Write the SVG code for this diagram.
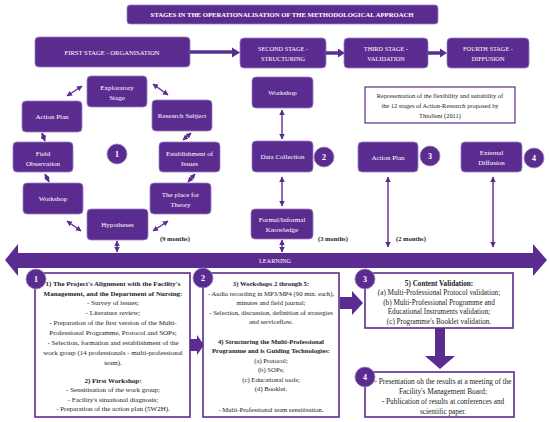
<svg xmlns="http://www.w3.org/2000/svg" width="550" height="422" viewBox="0 0 550 422">
<defs>
<marker id="ah" viewBox="0 0 10 10" refX="9" refY="5" markerWidth="4" markerHeight="4" orient="auto-start-reverse"><path d="M0,0 L10,5 L0,10 z" fill="#5b2c8f"/></marker>
<style>
.n{fill:#5b2c8f;stroke:#9a82c0;stroke-width:0.8}
.t{font-family:"Liberation Serif",serif;font-size:7px;fill:#fff;text-anchor:middle}
.h{font-family:"Liberation Serif",serif;font-size:6.3px;fill:#fff;text-anchor:middle}
.c{fill:#5b2c8f;stroke:#9a82c0;stroke-width:0.8}
.cn{font-family:"Liberation Serif",serif;font-size:8px;font-weight:bold;fill:#fff;text-anchor:middle}
.dl{stroke:#5b2c8f;stroke-width:1.4;fill:none;marker-start:url(#ah);marker-end:url(#ah)}
.bx{fill:#fff;stroke:#5b2c8f;stroke-width:1.6}
.b{font-family:"Liberation Serif",serif;font-size:6.4px;fill:#222;text-anchor:middle}
.b1{font-size:7px}
.b2{font-size:6.7px}
.b3{font-size:7.2px}
.b4{font-size:7.3px}
.bb{font-weight:bold}
.m{font-family:"Liberation Serif",serif;font-size:6.5px;font-weight:bold;fill:#222}
.p{fill:#5b2c8f}
</style>
</defs>
<rect width="550" height="422" fill="#fff"/>

<g id="title"><rect x="127" y="5" width="311" height="19" rx="3" class="n"/><text x="282" y="17" class="h" font-weight="bold" textLength="263" lengthAdjust="spacingAndGlyphs">STAGES IN THE OPERATIONALISATION OF THE METHODOLOGICAL APPROACH</text></g>

<g id="stage1"><rect x="35" y="37" width="155" height="30" rx="4" class="n"/><text x="112" y="54.5" class="h" textLength="95" lengthAdjust="spacingAndGlyphs">FIRST STAGE - ORGANISATION</text></g>
<g id="stage2"><rect x="240" y="38" width="86" height="30" rx="4" class="n"/><text x="283" y="50.5" class="h">SECOND STAGE -</text><text x="283" y="60.5" class="h">STRUCTURING</text></g>
<g id="stage3"><rect x="344" y="38" width="84" height="30" rx="4" class="n"/><text x="386" y="50.5" class="h">THIRD STAGE -</text><text x="386" y="60.5" class="h">VALIDATION</text></g>
<g id="stage4"><rect x="447" y="38" width="82" height="30" rx="4" class="n"/><text x="488" y="50.5" class="h">FOURTH STAGE -</text><text x="488" y="60.5" class="h">DIFFUSION</text></g>

<g id="exploratory"><rect x="87" y="76" width="60" height="31" rx="4" class="n"/><text x="117" y="89.5" class="t">Exploratory</text><text x="117" y="99.5" class="t">Stage</text></g>
<g id="actionplan1"><rect x="22" y="101" width="60" height="31" rx="4" class="n"/><text x="52" y="119" class="t">Action Plan</text></g>
<g id="research"><rect x="152" y="100" width="60" height="31" rx="4" class="n"/><text x="182" y="118" class="t">Research Subject</text></g>
<g id="fieldobs"><rect x="13" y="142" width="60" height="30" rx="4" class="n"/><text x="43" y="155.5" class="t">Field</text><text x="43" y="165.5" class="t">Observation</text></g>
<g id="c1"><circle cx="117" cy="154" r="10" class="c"/><text x="117" y="157" class="cn">1</text></g>
<g id="issues"><rect x="159" y="142" width="61" height="30" rx="4" class="n"/><text x="189.5" y="155.5" class="t">Establishment of</text><text x="189.5" y="165.5" class="t">Issues</text></g>
<g id="workshop1"><rect x="23" y="183" width="60" height="31" rx="4" class="n"/><text x="53" y="201" class="t">Workshop</text></g>
<g id="theory"><rect x="150" y="183" width="61" height="31" rx="4" class="n"/><text x="180.5" y="196.5" class="t">The place for</text><text x="180.5" y="206.5" class="t">Theory</text></g>
<g id="hypotheses"><rect x="87" y="209" width="61" height="31" rx="4" class="n"/><text x="117.5" y="227" class="t">Hypotheses</text></g>

<g id="workshop2"><rect x="252" y="77" width="61" height="31" rx="4" class="n"/><text x="282.5" y="95" class="t">Workshop</text></g>
<g id="datacollection"><rect x="252" y="141" width="61" height="31" rx="4" class="n"/><text x="282.5" y="159" class="t">Data Collection</text></g>
<g id="c2"><circle cx="324" cy="157" r="10" class="c"/><text x="324" y="160" class="cn">2</text></g>
<g id="knowledge"><rect x="251" y="209" width="62" height="30" rx="4" class="n"/><text x="282" y="221.5" class="t">Formal/Informal</text><text x="282" y="232" class="t">Knowledge</text></g>

<g id="actionplan3"><rect x="358" y="142" width="60" height="30" rx="4" class="n"/><text x="388" y="159.5" class="t">Action Plan</text></g>
<g id="c3"><circle cx="430" cy="156" r="10" class="c"/><text x="430" y="159" class="cn">3</text></g>
<g id="diffusion"><rect x="461" y="142" width="61" height="30" rx="4" class="n"/><text x="491.5" y="154.5" class="t">External</text><text x="491.5" y="164.5" class="t">Diffusion</text></g>
<g id="c4"><circle cx="534" cy="158" r="10" class="c"/><text x="534" y="161" class="cn">4</text></g>

<g id="note"><rect x="365" y="87" width="150" height="36" fill="#fff" stroke="#5b2c8f" stroke-width="1.2"/><text x="440" y="98" class="b">Representation of the flexibility and suitability of</text><text x="440" y="108" class="b">the 12 stages of Action-Research proposed by</text><text x="440" y="118" class="b">Thiollent (2011)</text></g>

<g id="durations"><text x="160" y="240.5" class="m">(9 months)</text><text x="318" y="240.5" class="m">(3 months)</text><text x="396" y="240.5" class="m">(2 months)</text></g>

<g id="learning"><path d="M5,260 L18,244 L18,253 L533,253 L533,244 L547,260 L533,276 L533,268 L18,268 L18,276 Z" class="p"/><text x="275" y="262.5" class="h">LEARNING</text></g>

<g id="connectors">
<path d="M190,52 H233" stroke="#5b2c8f" stroke-width="3.5"/><path d="M232,47.5 L240,52.5 L232,57.5 Z" class="p"/>
<path d="M326,53 H339" stroke="#5b2c8f" stroke-width="3.5"/><path d="M338,48.5 L345,53 L338,57.5 Z" class="p"/>
<path d="M428,53 H441" stroke="#5b2c8f" stroke-width="3.5"/><path d="M440,48.5 L447,53 L440,57.5 Z" class="p"/>
<path d="M82,86 L67,96" class="dl"/>
<path d="M153,84 L168,95" class="dl"/>
<path d="M42,133 L45,141" class="dl"/>
<path d="M191,133 L183,140" class="dl"/>
<path d="M45,174 L49,182" class="dl"/>
<path d="M195,174 L188,182" class="dl"/>
<path d="M67,221 L81,231" class="dl"/>
<path d="M168,221 L153,231" class="dl"/>
<path d="M117,241 L117,252" class="dl"/>
<path d="M282,110 L282,139" class="dl"/>
<path d="M282,177 L282,206" class="dl"/>
<path d="M282,240 L282,252" class="dl"/>
<path d="M388,177 L388,247" class="dl"/>
<path d="M493,177 L493,247" class="dl"/>
<path d="M190,339 H197 V335 L204,345 L197,355 V351 H190 Z" class="p"/>
<path d="M340,297 H352 V291 L363,303 L352,315 V309 H340 Z" class="p"/>
<path d="M435,328 H445 V356 H455 L440,369 L425,356 H435 Z" class="p"/>
</g>

<g id="box1"><rect x="35" y="273" width="155" height="144" class="bx"/><circle cx="36" cy="279" r="10" class="c"/><text x="36" y="282" class="cn">1</text>
<text class="b b1" x="113"><tspan x="113" y="285.5" class="bb">1) The Project's Alignment with the Facility's</tspan><tspan x="113" y="295.5" class="bb">Management, and the Department of Nursing:</tspan><tspan x="113" y="305">- Survey of issues;</tspan><tspan x="113" y="315">- Literature review;</tspan><tspan x="113" y="325">- Preparation of the first version of the Multi-</tspan><tspan x="113" y="335">Professional Programme, Protocol and SOPs;</tspan><tspan x="113" y="345">- Selection, formation and establishment of the</tspan><tspan x="113" y="355">work group (14 professionals - multi-professional</tspan><tspan x="113" y="364.5">team).</tspan><tspan x="113" y="382.5" class="bb">2) First Workshop:</tspan><tspan x="113" y="392">- Sensitisation of the work group;</tspan><tspan x="113" y="401.5">- Facility's situational diagnosis;</tspan><tspan x="113" y="411">- Preparation of the action plan (5W2H).</tspan></text></g>

<g id="box2"><rect x="203" y="273" width="136" height="144" class="bx"/><circle cx="203" cy="278" r="10" class="c"/><text x="203" y="281" class="cn">2</text>
<text class="b b2" x="271"><tspan x="271" y="286" class="bb">3) Workshops 2 through 5:</tspan><tspan x="271" y="295.5">- Audio recording in MP3/MP4  (90 min. each),</tspan><tspan x="271" y="305">minutes and field journal;</tspan><tspan x="271" y="314.5">- Selection, discussion, definition of strategies</tspan><tspan x="271" y="324">and serviceflow.</tspan><tspan x="271" y="343.5" class="bb">4) Structuring the Multi-Professional</tspan><tspan x="271" y="353" class="bb">Programme and is Guiding Technologies:</tspan><tspan x="271" y="362.5">(a) Protocol;</tspan><tspan x="271" y="372">(b) SOPs;</tspan><tspan x="271" y="381.5">(c) Educational tools;</tspan><tspan x="271" y="391">(d) Booklet.</tspan><tspan x="271" y="412">- Multi-Professional team sensitisation.</tspan></text></g>

<g id="box3"><rect x="365" y="273" width="148" height="55" class="bx"/><circle cx="365" cy="279" r="10" class="c"/><text x="365" y="282" class="cn">3</text>
<text class="b b3" x="439"><tspan x="439" y="285.5" class="bb">5) Content Validation:</tspan><tspan x="439" y="295">(a) Multi-Professional Protocol validation;</tspan><tspan x="439" y="304.5">(b) Multi-Professional Programme and</tspan><tspan x="439" y="314">Educational Instruments validation;</tspan><tspan x="439" y="323.5">(c) Programme's Booklet  validation.</tspan></text></g>

<g id="box4"><rect x="365" y="372" width="149" height="45" class="bx"/><circle cx="365" cy="377" r="10" class="c"/><text x="365" y="380" class="cn">4</text>
<text class="b b4" x="443"><tspan x="443" y="383.5">- Presentation oh the results at a meeting of the</tspan><tspan x="443" y="393.5">Facility's Management Board;</tspan><tspan x="443" y="403.5">- Publication of results at conferences and</tspan><tspan x="443" y="413.5">scientific paper.</tspan></text></g>
</svg>
